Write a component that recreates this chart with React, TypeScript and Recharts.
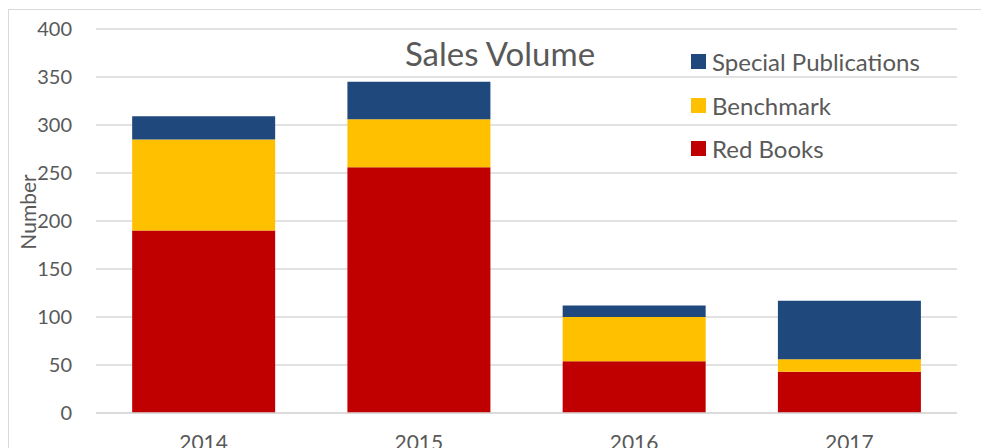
import { BarChart, Bar, XAxis, YAxis, CartesianGrid } from 'recharts';

const years = ['2014', '2015', '2016', '2017'];
const redBooks = [190, 256, 54, 43];
const benchmark = [95, 50, 46, 13];
const specialPubs = [24, 39, 12, 61];
const yTicks = [0, 50, 100, 150, 200, 250, 300, 350, 400];

const series = [
  { key: 'red', name: 'Red Books', color: '#C00000' },
  { key: 'bench', name: 'Benchmark', color: '#FFC000' },
  { key: 'special', name: 'Special Publications', color: '#1F497D' },
];

const data = years.map((year, i) => ({
  year,
  red: redBooks[i],
  bench: benchmark[i],
  special: specialPubs[i],
}));

const FONT = 'Lato, "Open Sans", sans-serif';
const TEXT = '#595959';

export default function App() {
  return (
    <div
      style={{
        position: 'absolute',
        left: 8,
        top: 9,
        width: 972,
        height: 438,
        borderTop: '1px solid #d9d9d9',
        borderLeft: '1px solid #d9d9d9',
        overflow: 'hidden',
        fontFamily: FONT,
        background: '#fff',
      }}
    >
      <BarChart
        width={972}
        height={438}
        data={data}
        margin={{ top: 19, right: 24, bottom: 0, left: 0 }}
        barCategoryGap="16.8%"
      >
        <CartesianGrid vertical={false} stroke="#d9d9d9" strokeWidth={1.5} />
        <XAxis
          dataKey="year"
          height={35}
          axisLine={{ stroke: '#d9d9d9', strokeWidth: 1.5 }}
          tickLine={false}
          tickSize={0}
          tickMargin={22}
          tick={{ fontSize: 21, fill: TEXT, fontFamily: FONT }}
        />
        <YAxis
          width={87}
          domain={[0, 400]}
          ticks={yTicks}
          axisLine={false}
          tickLine={false}
          tickSize={0}
          tickMargin={24}
          tick={{ fontSize: 20, fill: TEXT, fontFamily: FONT }}
          label={{
            value: 'Number',
            angle: -90,
            position: 'insideLeft',
            offset: 20,
            dy: -9,
            style: { fontSize: 21, fill: TEXT, fontFamily: FONT, textAnchor: 'middle' },
          }}
        />
        {series.map((s) => (
          <Bar
            key={s.key}
            dataKey={s.key}
            name={s.name}
            stackId="a"
            fill={s.color}
            isAnimationActive={false}
          />
        ))}
      </BarChart>
      <div
        style={{
          position: 'absolute',
          left: 0,
          width: 982,
          top: 24,
          textAlign: 'center',
          fontSize: 33,
          color: TEXT,
          lineHeight: '38px',
        }}
      >
        Sales Volume
      </div>
      <div style={{ position: 'absolute', left: 682, top: 30 }}>
        {[...series].reverse().map((s) => (
          <div
            key={s.key}
            style={{ display: 'flex', alignItems: 'center', height: 43.5 }}
          >
            <span
              style={{ width: 15, height: 15, background: s.color, marginRight: 6 }}
            />
            <span style={{ fontSize: 24, color: TEXT }}>{s.name}</span>
          </div>
        ))}
      </div>
    </div>
  );
}
